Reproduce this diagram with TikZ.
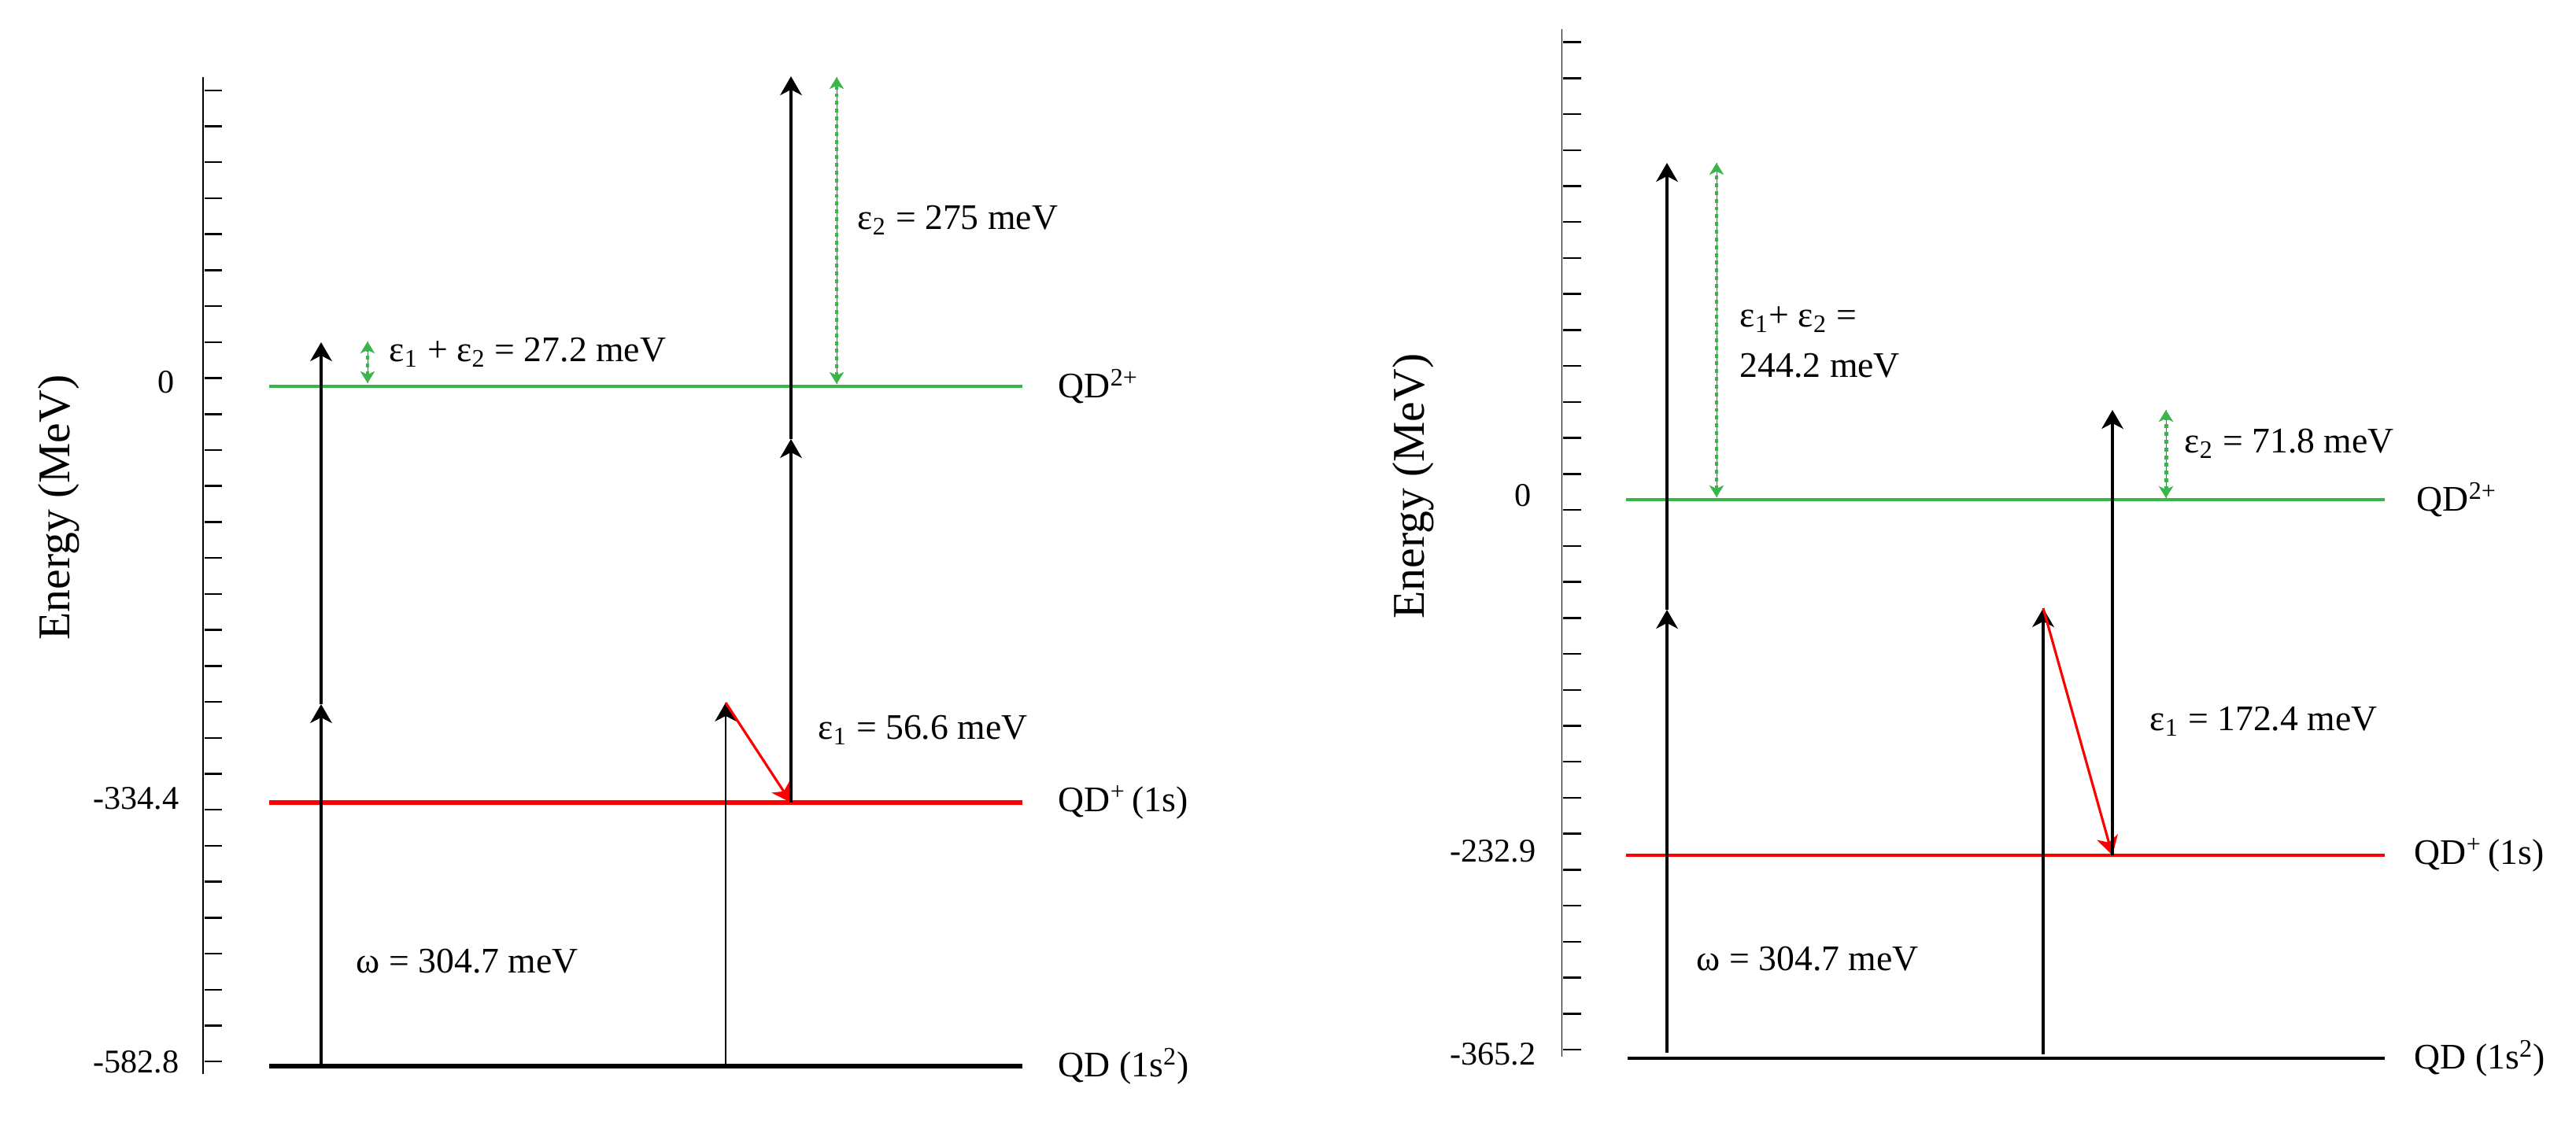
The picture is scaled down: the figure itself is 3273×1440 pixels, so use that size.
\documentclass[tikz,border=0pt]{standalone}
\usepackage{fontspec}
\setmainfont{Liberation Serif}
\usetikzlibrary{arrows.meta}
\definecolor{lvlgreen}{RGB}{57,181,74}
\definecolor{lvlred}{RGB}{255,0,0}
\tikzset{
  lvl/.style={line width=1.2pt},
  jump/.style={line width=1.15pt,-{Stealth[length=6.8pt,width=7.8pt,inset=2pt]}},
  sepgap/.style={lvlgreen,line width=1.4pt,dash pattern=on 1.4pt off 1.4pt,
    preaction={draw=black!60,line width=0.25pt,solid,-},
    {Stealth[length=4.3pt,width=5.2pt,inset=1.2pt]}-{Stealth[length=4.3pt,width=5.2pt,inset=1.2pt]}},
  lbl/.style={font=\fontsize{13}{16}\selectfont,anchor=west,inner sep=0pt},
  ticklbl/.style={font=\fontsize{12}{14}\selectfont,anchor=mid east,inner sep=0pt},
  axislbl/.style={font=\fontsize{16.4}{19}\selectfont,rotate=90,inner sep=0pt}
}
\begin{document}
\begin{tikzpicture}[x=0.01cm,y=-0.01cm]
    \useasboundingbox (0,0) rectangle (3273,1440);

    % left panel
    \draw[line width=0.3pt] (258,98) -- (258,1365);
    \foreach \i in {0,...,27}
    \draw[line width=0.7pt] (260,{114.8+45.72*\i}) -- (282,{114.8+45.72*\i});
    \node[axislbl] (le) at (75,645) {Energy (MeV)};
    \node[ticklbl] (lt0) at (222,491) {0};
    \node[ticklbl] (lt1) at (228,1020) {-334.4};
    \node[ticklbl] (lt2) at (228,1355) {-582.8};

    \draw[lvl,lvlgreen] (342,491) -- (1299,491);
    \draw[lvl,lvlred,line width=1.5pt] (342,1020) -- (1299,1020);
    \draw[lvl,line width=1.7pt] (342,1355) -- (1299,1355);
    \node[lbl] (lq2) at (1344,491) {QD\textsuperscript{2+}};
    \node[lbl] (lq1) at (1344,1020) {QD\textsuperscript{+}\,(1s)};
    \node[lbl] (lq0) at (1344,1355) {QD (1s\textsuperscript{2})};

    \coordinate (a1s) at (408,1355); \coordinate (a1m) at (408,895); \coordinate (a1t) at (408,435);
    \coordinate (a2s) at (922,1355); \coordinate (a2t) at (922,893);
    \coordinate (a3s) at (1005,1020); \coordinate (a3m) at (1005,558); \coordinate (a3t) at (1005,97);
    \coordinate (g1b) at (467,487); \coordinate (g1t) at (467,434);
    \coordinate (g2b) at (1063,488); \coordinate (g2t) at (1063,98);

    \draw[jump] (a1s) -- (a1m);
    \draw[jump] (a1m) -- (a1t);
    \draw[jump,line width=0.75pt] (a2s) -- (a2t);
    \draw[jump,lvlred,line width=0.9pt] (a2t) -- (a3s);
    \draw[jump] (a3s) -- (a3m);
    \draw[jump] (a3m) -- (a3t);
    \draw[sepgap] (g1b) -- (g1t);
    \draw[sepgap] (g2b) -- (g2t);

    \node[lbl] (le12) at (494,448) {ε\textsubscript{1} + ε\textsubscript{2} = 27.2 meV};
    \node[lbl] (le2) at (1089,280) {ε\textsubscript{2} = 275 meV};
    \node[lbl] (le1) at (1039,928) {ε\textsubscript{1} = 56.6 meV};
    \node[lbl] (lw) at (452,1222) {ω = 304.7 meV};

    % right panel
    \draw[line width=0.3pt] (1984,37) -- (1984,1343);
    \foreach \i in {0,...,28}
    \draw[line width=0.7pt] (1986,{53.6+45.73*\i}) -- (2009,{53.6+45.73*\i});
    \node[axislbl] (re) at (1796,618) {Energy (MeV)};
    \node[ticklbl] (rt0) at (1946,635) {0};
    \node[ticklbl] (rt1) at (1952,1087) {-232.9};
    \node[ticklbl] (rt2) at (1952,1345) {-365.2};

    \draw[lvl,lvlgreen] (2066,635) -- (3030,635);
    \draw[lvl,lvlred] (2066,1087) -- (3030,1087);
    \draw[lvl,line width=1.35pt] (2068,1345) -- (3030,1345);
    \node[lbl] (rq2) at (3070,635) {QD\textsuperscript{2+}};
    \node[lbl] (rq1) at (3067,1087) {QD\textsuperscript{+}\,(1s)};
    \node[lbl] (rq0) at (3067,1345) {QD (1s\textsuperscript{2})};

    \coordinate (b1s) at (2118,1338); \coordinate (b1m) at (2118,775); \coordinate (b1t) at (2118,207);
    \coordinate (b2s) at (2596,1340); \coordinate (b2t) at (2596,773);
    \coordinate (b3s) at (2684,1087); \coordinate (b3t) at (2684,521);
    \coordinate (h1b) at (2181,632); \coordinate (h1t) at (2181,207);
    \coordinate (h2b) at (2752,633); \coordinate (h2t) at (2752,521);

    \draw[jump] (b1s) -- (b1m);
    \draw[jump] (b1m) -- (b1t);
    \draw[jump] (b2s) -- (b2t);
    \draw[jump,lvlred,line width=0.9pt] (b2t) -- (b3s);
    \draw[jump] (b3s) -- (b3t);
    \draw[sepgap] (h1b) -- (h1t);
    \draw[sepgap] (h2b) -- (h2t);

    \node[lbl,align=left] (re12) at (2210,435) {ε\textsubscript{1}+ ε\textsubscript{2} =\\[2pt]244.2 meV};
    \node[lbl] (re2) at (2775,564) {ε\textsubscript{2} = 71.8 meV};
    \node[lbl] (re1) at (2731,917) {ε\textsubscript{1} = 172.4 meV};
    \node[lbl] (rw) at (2155,1219) {ω = 304.7 meV};
\end{tikzpicture}
\end{document}
